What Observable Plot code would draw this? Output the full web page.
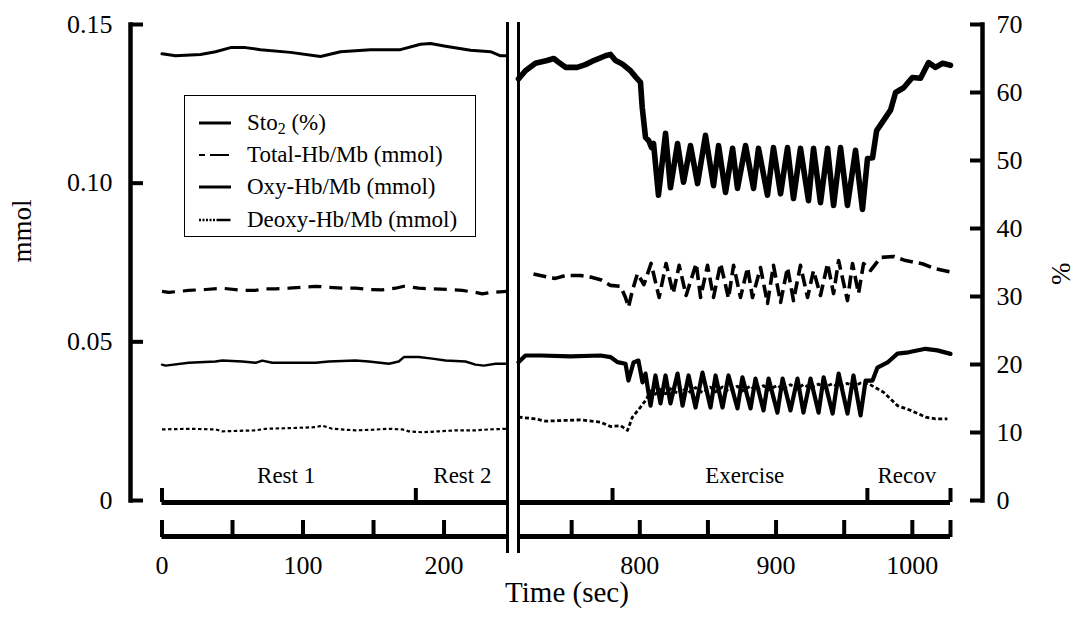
<!DOCTYPE html>
<html>
<head>
<meta charset="utf-8">
<script src="https://cdn.jsdelivr.net/npm/d3@7"></script>
<script src="https://cdn.jsdelivr.net/npm/@observablehq/plot@0.6"></script>
<style>
  body { margin: 0; background: #fff; }
  #wrap { position: relative; width: 1075px; height: 619px; font-family: "Liberation Serif", "Times New Roman", serif; }
  #legend { position: absolute; left: 184px; top: 95px; width: 292px; height: 142px; border: 1.5px solid #000; box-sizing: border-box; background: #fff; }
</style>
</head>
<body>
<div id="wrap"></div>
<script>
// ---- data: [time (s), value] ----
// StO2 in %, others in mmol
const sto2Rest = [[0,65.7],[9.6,65.4],[27.3,65.6],[38,66.0],[48.6,66.6],[59.2,66.6],[69.9,66.3],[91.1,65.9],[112.4,65.3],[126.6,66.0],[147.9,66.3],[169.1,66.3],[183.3,67.1],[190.4,67.2],[201.1,66.8],[218.8,66.2],[233,66.0],[240.1,65.4],[244.5,65.4]];
const sto2Exercise = [[711,62.0],[716.1,63.2],[723.4,64.3],[732,64.7],[736.9,65.0],[739.4,64.6],[745.5,63.7],[754,63.7],[760.1,64.1],[766.2,64.7],[774.8,65.4],[778.5,65.6],[782.2,64.7],[787.1,64.2],[793.2,63.2],[796.9,62.3],[800.5,61.5],[801.8,57.8],[804.2,53.4],[806.6,52.9],[808.6,51.9],[810.1,52.5],[813.7,44.9],[818.9,54.0],[822.5,46.0],[827.7,52.5],[832.1,46.8],[837.2,52.2],[842.4,46.6],[848.2,53.7],[854.1,46.3],[857.8,52.2],[862.9,45.3],[868.1,51.8],[871.7,45.9],[877.6,52.2],[883.5,45.9],[887.1,51.8],[893.7,44.9],[898.1,51.9],[903.3,45.1],[908.4,51.9],[912.8,44.4],[917.9,51.8],[923.8,44.1],[927.5,51.8],[932.6,43.8],[937.8,51.8],[942.2,43.4],[947.3,51.9],[952.4,43.4],[958.3,51.5],[963.4,42.8],[967.1,50.3],[970.8,50.4],[973.8,54.4],[978.9,55.9],[984,57.4],[987.7,60.0],[993.6,60.7],[1000,62.2],[1006,62.1],[1011.9,64.4],[1017,63.7],[1022.2,64.3],[1028,64.0]];
const totalRest = [[0,0.0659],[4.8,0.0656],[19,0.0662],[30.9,0.0665],[42.7,0.0669],[56.9,0.0662],[66.3,0.0662],[71.1,0.0667],[80.5,0.0667],[89.9,0.0669],[99.4,0.0672],[108.9,0.0675],[118.3,0.0672],[127.8,0.0669],[137.2,0.0669],[146.7,0.0665],[156.2,0.0664],[165.6,0.0669],[171.5,0.0675],[182.1,0.0669],[191.6,0.0667],[203.4,0.0665],[212.9,0.0662],[222.3,0.0656],[227.1,0.0651],[234.2,0.0656],[244.5,0.0659]];
const totalExercise = [[722,0.0714],[734.4,0.0702],[738.1,0.0700],[745.5,0.0709],[756.5,0.0709],[763.9,0.0704],[771.2,0.0696],[778.5,0.0678],[785.9,0.0675],[789.5,0.0640],[791.7,0.0609],[794.6,0.0662],[798.3,0.0715],[803,0.0680],[808.3,0.0747],[814.2,0.0640],[819.3,0.0747],[824.5,0.0652],[828.9,0.0741],[834,0.0646],[841.4,0.0747],[844.6,0.0640],[849.7,0.0741],[854.1,0.0640],[859.3,0.0747],[865.1,0.0637],[868.8,0.0741],[873.9,0.0640],[879.1,0.0734],[882.7,0.0640],[888.6,0.0734],[893.7,0.0621],[898.1,0.0741],[903.3,0.0624],[908.4,0.0734],[912.8,0.0630],[917.9,0.0741],[923.1,0.0640],[927.5,0.0725],[932.6,0.0646],[937.8,0.0747],[942.2,0.0652],[945.9,0.0756],[952.4,0.0630],[956.1,0.0747],[960.5,0.0652],[964.2,0.0747],[969.4,0.0725],[976.7,0.0766],[986.3,0.0769],[995.1,0.0756],[1007.3,0.0746],[1017.1,0.0730],[1028,0.0720]];
const oxyRest = [[0,0.0428],[2.5,0.0425],[19,0.0434],[37.9,0.0438],[42.7,0.0441],[56.9,0.0438],[66.3,0.0434],[71.1,0.0441],[78.2,0.0434],[94.7,0.0434],[108.9,0.0434],[118.3,0.0438],[137.2,0.0441],[146.7,0.0438],[160.9,0.0431],[167.9,0.0438],[171.5,0.0452],[182.1,0.0452],[191.6,0.0447],[201.1,0.0441],[215.2,0.0438],[222.3,0.0428],[228.2,0.0425],[236.5,0.0431],[244.5,0.0431]];
const oxyExercise = [[711,0.0436],[716.1,0.0457],[727.1,0.0457],[749.1,0.0454],[771.2,0.0457],[778.5,0.0452],[783.6,0.0436],[789.5,0.0431],[791.7,0.0378],[795.4,0.0435],[799,0.0441],[802,0.0372],[804.2,0.0400],[807.9,0.0299],[811.5,0.0394],[815.2,0.0306],[818.9,0.0394],[822.5,0.0306],[827.7,0.0400],[831.4,0.0299],[835.8,0.0394],[840.9,0.0293],[846,0.0403],[851.9,0.0293],[855.6,0.0394],[860.7,0.0293],[865.1,0.0394],[871.7,0.0290],[875.3,0.0388],[881.3,0.0290],[884.9,0.0384],[890.8,0.0284],[894.5,0.0384],[901,0.0277],[904.8,0.0384],[910.6,0.0284],[915.7,0.0384],[920.1,0.0277],[925.3,0.0384],[931.2,0.0277],[934.9,0.0388],[941.5,0.0274],[945.9,0.0400],[952.4,0.0274],[956.8,0.0394],[962,0.0268],[965.7,0.0378],[970.8,0.0378],[974.4,0.0419],[981.8,0.0435],[989.1,0.0463],[997.2,0.0467],[1009.7,0.0478],[1018.4,0.0473],[1028,0.0462]];
const deoxyRest = [[0,0.0224],[19,0.0226],[37.9,0.0224],[42.7,0.0218],[66.3,0.0221],[73.4,0.0226],[89.9,0.0228],[108.9,0.0231],[113.6,0.0236],[120.7,0.0226],[137.2,0.0221],[149.1,0.0223],[160.9,0.0226],[170.4,0.0224],[175,0.0218],[184.5,0.0215],[196.3,0.0218],[208.2,0.0221],[222.3,0.0221],[231.8,0.0224],[244.5,0.0226]];
const deoxyExercise = [[711,0.0263],[723.4,0.0257],[730.8,0.0250],[741.8,0.0252],[756.5,0.0254],[771.2,0.0247],[778.5,0.0233],[785.9,0.0236],[791,0.0221],[794.6,0.0263],[800.5,0.0294],[804.2,0.0315],[808,0.0345],[811.5,0.0335],[815,0.0350],[819,0.0336],[822.5,0.0352],[827.7,0.0338],[831.4,0.0355],[835.8,0.0340],[840.9,0.0356],[846,0.0340],[851.9,0.0357],[855.6,0.0342],[860.7,0.0358],[865.1,0.0344],[871.7,0.0360],[875.3,0.0345],[881.3,0.0361],[884.9,0.0347],[890.8,0.0362],[894.5,0.0348],[901,0.0363],[904.8,0.0350],[910.6,0.0365],[915.7,0.0352],[920.1,0.0366],[925.3,0.0354],[931.2,0.0367],[934.9,0.0356],[941.5,0.0368],[945.9,0.0357],[952.4,0.0369],[956.8,0.0360],[962,0.0370],[967.8,0.0368],[978.9,0.0341],[989,0.0299],[998.7,0.0284],[1009.7,0.0263],[1017,0.0257],[1025.7,0.0257]];

// ---- axes / annotations ----
const segments = [{start: 0, end: 245}, {start: 711, end: 1028}];
const breaks = [245, 711];
const phases = [{name: "Rest 1", at: 88}, {name: "Rest 2", at: 213}, {name: "Exercise", at: 877}, {name: "Recov", at: 996}];
const phaseTicks = [0, 180, 780, 967, 1028];
const timeTicks = [0, 50, 100, 150, 200, 750, 800, 850, 900, 950, 1000, 1028];
const timeLabels = [0, 100, 200, 800, 900, 1000];
const mmolTicks = [0, 0.05, 0.10, 0.15];
const pctTicks = [0, 10, 20, 30, 40, 50, 60, 70];
const legendItems = [
  {label: "Sto", sub: "2", tail: " (%)", dash: null, width: 3},
  {label: "Total-Hb/Mb (mmol)", dash: "6,5,19", width: 2},
  {label: "Oxy-Hb/Mb (mmol)", dash: null, width: 3},
  {label: "Deoxy-Hb/Mb (mmol)", dash: "2,1.5,2,1.5,2,1.5,2,1.5,2,1.5,14", width: 2.5}
];

const K = 0.15 / 70; // % -> mmol axis mapping
const FONT = "Liberation Serif";

const X = d => d[0];
const Ymm = d => d[1];
const Ypct = d => d[1] * K;

const chart = Plot.plot({
  width: 1075,
  height: 619,
  marginLeft: 130,
  marginRight: 93,
  marginTop: 24,
  marginBottom: 119,
  style: {fontFamily: FONT, fontSize: "26px", background: "white", overflow: "visible"},
  x: {type: "linear", domain: [0, 245, 711, 1028], range: [161.5, 507, 518, 950], label: null},
  y: {type: "linear", domain: [0, 0.15], label: null},
  marks: [
    // vertical axis lines
    Plot.frame({anchor: "left", strokeWidth: 4.5}),
    Plot.frame({anchor: "right", strokeWidth: 4.5}),
    // left axis ticks + labels
    Plot.axisY(mmolTicks, {anchor: "left", tickSize: 13, dx: 13, strokeWidth: 4, tickFormat: () => "", label: null}),
    Plot.axisY(mmolTicks, {anchor: "left", tickSize: 0, tickPadding: 18, fontSize: 26, fontFamily: FONT,
      tickFormat: d => d === 0 ? "0" : d.toFixed(2), label: null}),
    // right axis ticks + labels (%)
    Plot.axisY(pctTicks.map(p => p * K), {anchor: "right", tickSize: 13, dx: -13, strokeWidth: 4, tickFormat: () => "", label: null}),
    Plot.axisY(pctTicks.map(p => p * K), {anchor: "right", tickSize: 0, tickPadding: 14, fontSize: 26, fontFamily: FONT,
      tickFormat: d => String(Math.round(d / K)), label: null}),
    // phase axis (upper x line)
    Plot.ruleY(segments, {y: 0, x1: "start", x2: "end", dy: 2, strokeWidth: 5}),
    Plot.axisX(phaseTicks, {anchor: "bottom", tickSize: 14, dy: -12, strokeWidth: 4, tickFormat: () => "", label: null}),
    Plot.text(phases, {x: "at", text: "name", frameAnchor: "bottom", dy: -18, fontSize: 23, fontFamily: FONT}),
    // time axis (lower x line)
    Plot.ruleY(segments, {y: 0, x1: "start", x2: "end", dy: 36, strokeWidth: 5}),
    Plot.axisX(timeTicks, {anchor: "bottom", tickSize: 17, dy: 20, strokeWidth: 4, tickFormat: () => "", label: null}),
    Plot.axisX(timeLabels, {anchor: "bottom", tickSize: 0, tickPadding: 0, dy: 55, fontSize: 26, fontFamily: FONT,
      tickFormat: d => String(d), label: null}),
    // axis break
    Plot.ruleX(breaks, {x: d => d, insetTop: -2, insetBottom: -53, strokeWidth: 3}),
    // axis titles
    Plot.text(["mmol"], {text: d => d, frameAnchor: "left", dx: -108, rotate: -90, fontSize: 27, fontFamily: FONT}),
    Plot.text(["%"], {text: d => d, frameAnchor: "right", dx: 79, rotate: -90, fontSize: 27, fontFamily: FONT}),
    Plot.text(["Time (sec)"], {text: d => d, frameAnchor: "bottom", dx: 10.5, dy: 101, fontSize: 29, fontFamily: FONT}),
    // data lines
    Plot.line(deoxyRest, {x: X, y: Ymm, stroke: "black", strokeWidth: 2.2, strokeDasharray: "3.5,2.5", strokeLinecap: "butt"}),
    Plot.line(deoxyExercise, {x: X, y: Ymm, stroke: "black", strokeWidth: 2.8, strokeDasharray: "4,2.5", strokeLinecap: "butt"}),
    Plot.line(totalRest, {x: X, y: Ymm, stroke: "black", strokeWidth: 3.2, strokeDasharray: "13,8", strokeLinecap: "butt"}),
    Plot.line(totalExercise, {x: X, y: Ymm, stroke: "black", strokeWidth: 3.6, strokeDasharray: "13,6", strokeLinecap: "butt"}),
    Plot.line(oxyRest, {x: X, y: Ymm, stroke: "black", strokeWidth: 2.4}),
    Plot.line(oxyExercise, {x: X, y: Ymm, stroke: "black", strokeWidth: 4.2}),
    Plot.line(sto2Rest, {x: X, y: Ypct, stroke: "black", strokeWidth: 3}),
    Plot.line(sto2Exercise, {x: X, y: Ypct, stroke: "black", strokeWidth: 5.6})
  ]
});

const wrap = document.getElementById("wrap");
wrap.appendChild(chart);

// legend box
const svgNS = "http://www.w3.org/2000/svg";
const leg = document.createElement("div");
leg.id = "legend";
legendItems.forEach((it, i) => {
  const cy = 27 + i * 32.2;
  const s = document.createElementNS(svgNS, "svg");
  s.setAttribute("width", 40);
  s.setAttribute("height", 8);
  s.style.cssText = `position:absolute;left:12px;top:${cy - 4}px;overflow:visible`;
  const l = document.createElementNS(svgNS, "line");
  l.setAttribute("x1", 2); l.setAttribute("x2", 34);
  l.setAttribute("y1", 4); l.setAttribute("y2", 4);
  l.setAttribute("stroke", "black");
  l.setAttribute("stroke-width", it.width);
  if (it.dash) l.setAttribute("stroke-dasharray", it.dash);
  s.appendChild(l);
  leg.appendChild(s);
  const t = document.createElement("div");
  t.style.cssText = `position:absolute;left:62px;top:${cy - 13}px;font-size:23px;line-height:26px;white-space:nowrap;font-family:"${FONT}",serif`;
  t.appendChild(document.createTextNode(it.label));
  if (it.sub) {
    const sb = document.createElement("sub");
    sb.style.cssText = "font-size:16px;vertical-align:-4px;line-height:0";
    sb.textContent = it.sub;
    t.appendChild(sb);
    t.appendChild(document.createTextNode(it.tail));
  }
  leg.appendChild(t);
});
wrap.appendChild(leg);
</script>
</body>
</html>
